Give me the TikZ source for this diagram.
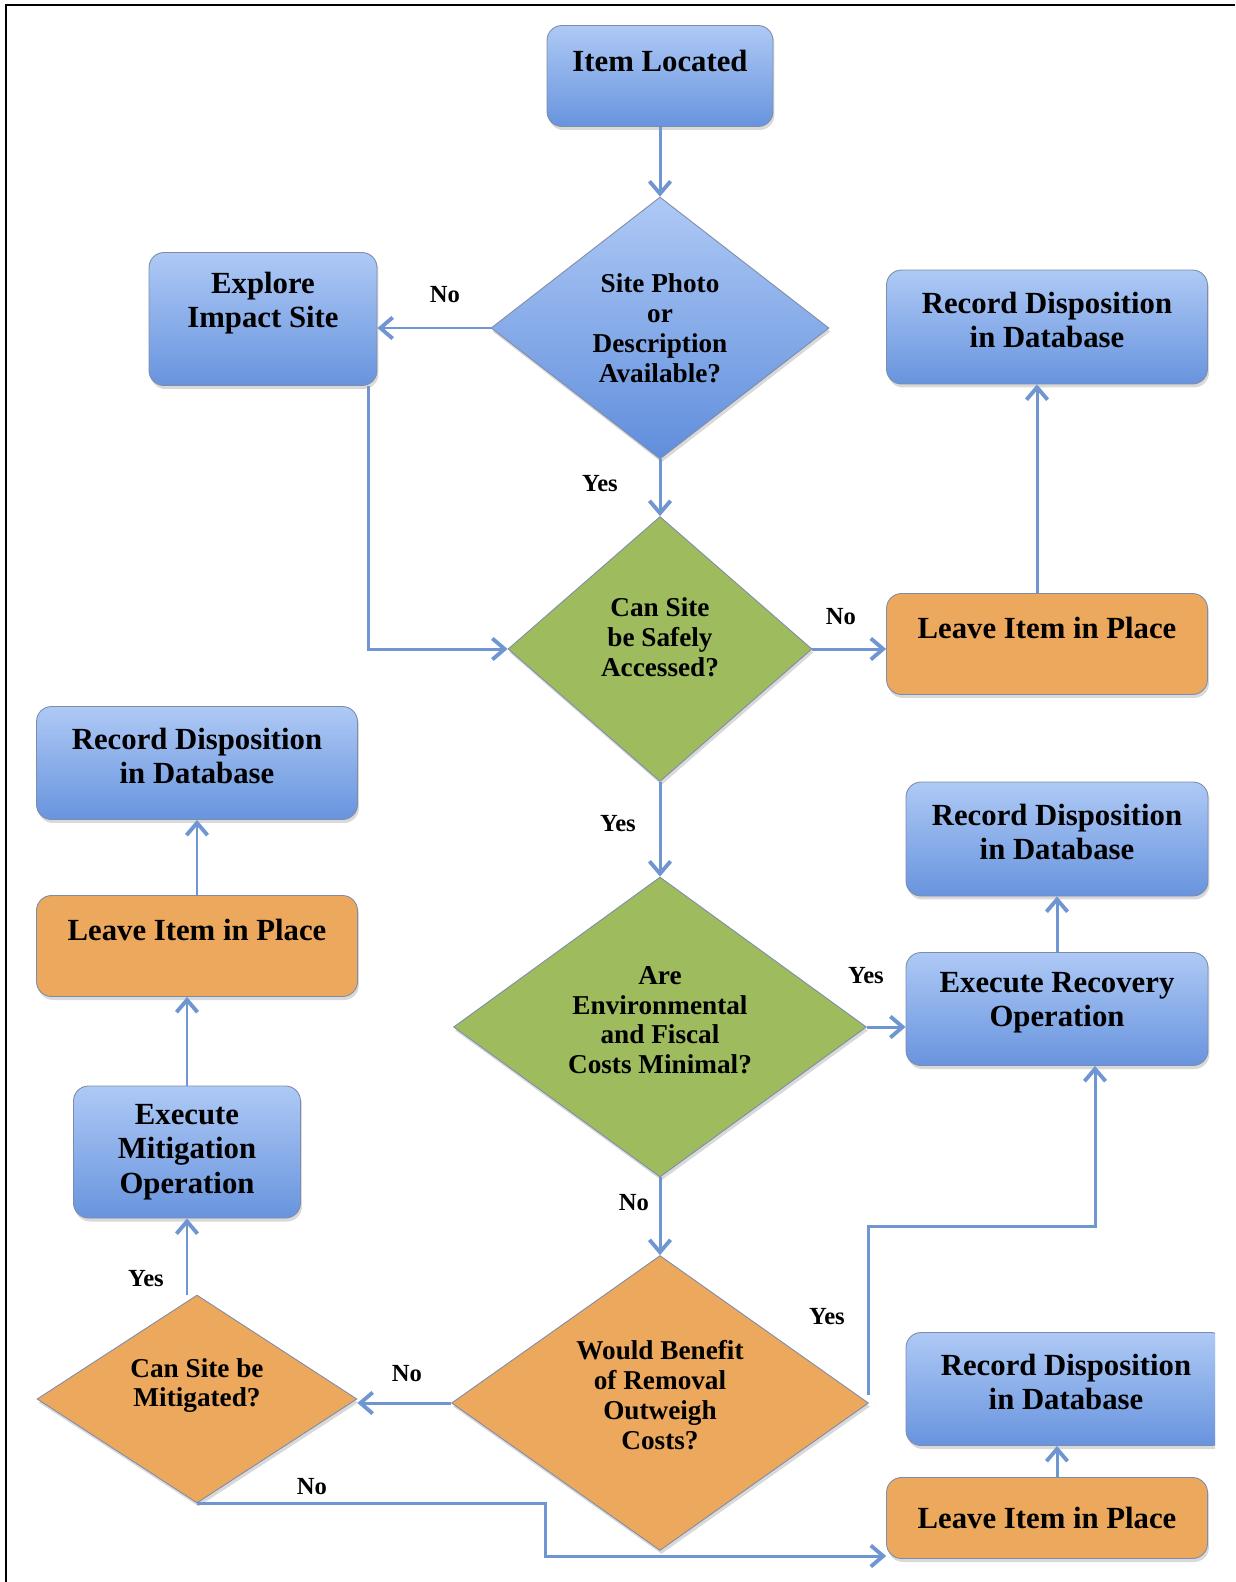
\documentclass[tikz,border=0pt]{standalone}
\usepackage{fontspec}
\setmainfont{Liberation Serif}
\usepackage{tikz}
\usetikzlibrary{arrows.meta}
\usetikzlibrary{shapes.geometric}
\usetikzlibrary{shadows}

\definecolor{boxtop}{RGB}{174,201,245}
\definecolor{boxbottom}{RGB}{104,148,222}
\definecolor{diamondblue}{RGB}{96,142,220}
\definecolor{leafgreen}{RGB}{158,187,94}
\definecolor{amber}{RGB}{236,168,92}
\definecolor{flowblue}{RGB}{112,150,210}
\definecolor{edgegray}{RGB}{125,140,170}

\begin{document}
\begin{tikzpicture}[x=0.02cm, y=-0.02cm,
    flow/.style={draw=flowblue, line width=1.7pt, -{Straight Barb[length=7pt, width=12pt, line width=2.2pt]}},
    shade/.style={drop shadow={shadow xshift=0.03cm, shadow yshift=-0.07cm, opacity=0.3}},
    box/.style={rectangle, rounded corners=0.3cm, draw=edgegray, line width=0.5pt, align=center, shade, font=\bfseries\fontsize{17.5}{19.5}\selectfont},
    bluebox/.style={box, top color=boxtop, bottom color=boxbottom},
    amberbox/.style={box, fill=amber},
    decision/.style={diamond, draw=edgegray, line width=0.5pt, inner sep=0pt, align=center, shade, font=\bfseries\fontsize{15.5}{17}\selectfont},
    answer/.style={font=\bfseries\fontsize{14}{16}\selectfont},
    dims/.style 2 args={minimum width=#1, minimum height=#2},
    lift/.style={text depth=#1}]
    \useasboundingbox (0, 0) rectangle (1235, 1582);
    \draw [line width=1.2pt] (6, 1582) -- (6, 5) -- (1235, 5);

    \node (item-located) [bluebox, dims={4.52cm}{2.02cm}, lift=0.6cm, at={(660, 76)}] {Item Located};
    \node (site-info) [decision, top color=boxtop, bottom color=diamondblue, aspect=1.29, dims={6.76cm}{5.24cm}, at={(660, 328)}] {Site Photo\\or\\Description\\Available?};
    \node (explore-site) [bluebox, dims={4.56cm}{2.66cm}, lift=0.77cm, at={(263, 319)}] {Explore\\Impact Site};
    \node (record-top) [bluebox, dims={6.42cm}{2.28cm}, lift=0.28cm, at={(1047, 327)}] {Record Disposition\\in Database};
    \node (site-access) [decision, fill=leafgreen, aspect=1.15, dims={6.08cm}{5.3cm}, lift=0.48cm, at={(660, 649)}] {Can Site\\be Safely\\Accessed?};
    \node (leave-top) [amberbox, dims={6.42cm}{2.02cm}, lift=0.64cm, at={(1047, 644)}] {Leave Item in Place};
    \node (costs) [decision, fill=leafgreen, aspect=1.38, dims={8.26cm}{6cm}, lift=0.28cm, at={(660, 1027)}] {Are\\Environmental\\and Fiscal\\Costs Minimal?};
    \node (record-mid) [bluebox, dims={6.04cm}{2.28cm}, lift=0.28cm, at={(1057, 839)}] {Record Disposition\\in Database};
    \node (recovery) [bluebox, dims={6.04cm}{2.26cm}, lift=0.37cm, at={(1057, 1009)}] {Execute Recovery\\Operation};
    \node (record-left) [bluebox, dims={6.42cm}{2.26cm}, lift=0.28cm, at={(197, 763)}] {Record Disposition\\in Database};
    \node (leave-left) [amberbox, dims={6.42cm}{2.02cm}, lift=0.64cm, at={(197, 946)}] {Leave Item in Place};
    \node (mitigation) [bluebox, dims={4.54cm}{2.64cm}, at={(187, 1152)}] {Execute\\Mitigation\\Operation};
    \node (benefit) [decision, fill=amber, aspect=1.41, dims={8.34cm}{5.9cm}, lift=0.32cm, at={(660, 1403)}] {Would Benefit\\of Removal\\Outweigh\\Costs?};
    \node (mitigable) [decision, fill=amber, aspect=1.54, dims={6.4cm}{4.16cm}, lift=0.66cm, at={(197, 1399)}] {Can Site be\\Mitigated?};
    \begin{scope}
        \clip (0, 0) rectangle (1215, 1582);
        \node (record-low) [bluebox, dims={6.4cm}{2.26cm}, lift=0.28cm, at={(1066, 1389)}] {Record Disposition\\in Database};
    \end{scope}
    \node (leave-low) [amberbox, dims={6.42cm}{1.62cm}, at={(1047, 1518)}] {Leave Item in Place};

    \coordinate (yes-turn) at (1095, 1226);
    \coordinate (no-turn) at (545, 1556);

    \draw [flow] (item-located) -- (site-info);
    \draw [flow] (site-info.west) -- (site-info.west -| explore-site.east);
    \draw [flow] (site-info) -- (site-access);
    \draw [flow] ([xshift=-0.18cm]explore-site.south east) |- (site-access.west);
    \draw [flow] (site-access.east) -- (site-access.east -| leave-top.west);
    \draw [flow] ([xshift=-0.2cm]leave-top.north) -- ([xshift=-0.2cm]record-top.south);
    \draw [flow] (site-access) -- (costs);
    \draw [flow] (costs.east) -- (costs.east -| recovery.west);
    \draw [flow] (recovery) -- (record-mid);
    \draw [flow] (costs) -- (benefit);
    \draw [flow] ([yshift=0.16cm]benefit.east) |- (yes-turn) -- (yes-turn |- recovery.south);
    \draw [flow] (benefit.west) -- (benefit.west -| mitigable.east);
    \draw [flow] (mitigable.north -| mitigation.south) -- (mitigation.south);
    \draw [flow] (mitigation.north) -- (mitigation.north |- leave-left.south);
    \draw [flow] (leave-left) -- (record-left);
    \draw [flow] (mitigable.south) -| (no-turn) -- (no-turn -| leave-low.west);
    \draw [flow] ([xshift=0.2cm]leave-low.north) -- ([xshift=0.2cm]leave-low.north |- record-low.south);

    \node (no-photo) [answer, at={(445, 295)}] {No};
    \node (yes-photo) [answer, at={(600, 484)}] {Yes};
    \node (no-access) [answer, at={(841, 617)}] {No};
    \node (yes-access) [answer, at={(618, 824)}] {Yes};
    \node (yes-costs) [answer, at={(866, 976)}] {Yes};
    \node (no-costs) [answer, at={(634, 1203)}] {No};
    \node (yes-benefit) [answer, at={(827, 1317)}] {Yes};
    \node (no-benefit) [answer, at={(407, 1374)}] {No};
    \node (yes-mitigable) [answer, at={(146, 1279)}] {Yes};
    \node (no-mitigable) [answer, at={(312, 1487)}] {No};
\end{tikzpicture}
\end{document}
